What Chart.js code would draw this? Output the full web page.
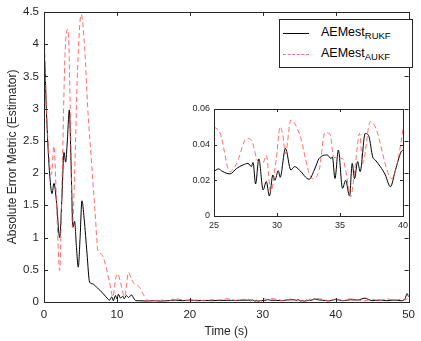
<!DOCTYPE html>
<html>
<head>
<meta charset="utf-8">
<script src="https://cdn.jsdelivr.net/npm/chart.js@4/dist/chart.umd.min.js"></script>
<style>
  body { margin: 0; background: #fff; }
  #wrap { position: relative; width: 421px; height: 341px; font-family: 'Liberation Sans', Arial, sans-serif; }
  #mainChart { position: absolute; left: 0; top: 0; }
  #insetChart { position: absolute; left: 188px; top: 99px; }
  #legend { position: absolute; left: 279px; top: 19px; width: 134px; height: 49px; border: 1px solid #262626; background: #fff; box-sizing: border-box; color: #000; }
  .row { position: absolute; left: 0; height: 20px; width: 100%; }
  .sample { position: absolute; left: 3px; width: 26px; top: 10px; }
  .lbl { position: absolute; left: 41px; top: 2px; font-size: 12.5px; white-space: nowrap; }
  .lbl sub { font-size: 9.5px; vertical-align: -3px; }
</style>
</head>
<body>
<div id="wrap">
  <canvas id="mainChart" width="421" height="341"></canvas>
  <canvas id="insetChart" width="224" height="136"></canvas>
  <div id="legend">
    <div class="row" style="top:3px"><span class="sample" style="border-top:1px solid #000"></span><span class="lbl">AEMest<sub>RUKF</sub></span></div>
    <div class="row" style="top:24px"><span class="sample" style="border-top:1px dashed #ff7070"></span><span class="lbl">AEMest<sub>AUKF</sub></span></div>
  </div>
</div>
<script>
// ---- data ----
// early part (0 - 25 s)
const rukfTime = [0, 0.15, 0.32, 0.55, 0.8, 1.1, 1.37, 1.7, 2.15, 2.45, 2.74, 2.97, 3.2, 3.47, 3.7, 3.97, 4.2, 4.45, 4.7, 4.95, 5.2, 5.5, 5.9, 6.25, 6.7, 7.2, 7.7, 8.1, 8.5, 9.0, 9.3, 9.5, 9.8, 10.0, 10.2, 10.5, 10.8, 11.0, 11.3, 11.6, 12.0, 12.3, 12.6, 13, 14, 15, 16, 17, 18, 19, 20, 21, 22, 23, 24];
const rukfValue = [3.9, 3.6, 3.0, 2.4, 1.95, 1.68, 1.84, 1.57, 1.0, 1.6, 2.32, 2.17, 2.5, 2.98, 2.2, 1.16, 1.25, 0.85, 0.54, 1.0, 1.57, 1.3, 0.75, 0.31, 0.28, 0.23, 0.18, 0.13, 0.08, 0.03, 0.08, 0.02, 0.1, 0.05, 0.12, 0.06, 0.09, 0.05, 0.1, 0.07, 0.11, 0.06, 0.02, 0.02, 0.015, 0.02, 0.015, 0.02, 0.03, 0.02, 0.03, 0.02, 0.025, 0.02, 0.025];
const aukfTime = [0, 0.3, 0.6, 1.0, 1.37, 1.7, 2.15, 2.5, 2.9, 3.3, 3.6, 3.9, 4.2, 4.6, 5.1, 5.6, 6.0, 6.5, 7.0, 7.4, 7.8, 8.1, 8.5, 9.0, 9.45, 9.8, 10.1, 10.5, 11.05, 11.6, 12.0, 12.4, 13.1, 13.6, 14.2, 15, 16, 17, 18, 19, 20, 21, 22, 23, 24];
const aukfValue = [4.36, 3.1, 2.4, 1.98, 2.42, 1.6, 0.49, 2.0, 3.9, 4.23, 3.0, 1.16, 2.0, 3.6, 4.46, 3.9, 3.0, 2.2, 1.4, 0.8, 0.75, 0.7, 0.55, 0.3, 0.08, 0.35, 0.44, 0.3, 0.08, 0.46, 0.35, 0.28, 0.23, 0.12, 0.03, 0.02, 0.03, 0.015, 0.05, 0.035, 0.02, 0.03, 0.02, 0.035, 0.03];

// zoomed window (25 - 40 s)
const insetRukfTime = [25, 25.34, 25.7, 26.26, 26.8, 27.3, 27.7, 27.97, 28.1, 28.3, 28.56, 28.9, 29.15, 29.4, 29.67, 29.83, 30.1, 30.25, 30.67, 31.1, 31.4, 31.77, 32.56, 32.96, 33.35, 34.0, 34.27, 34.4, 34.6, 34.87, 35.2, 35.45, 35.76, 35.97, 36.15, 36.4, 36.6, 37.0, 37.3, 37.6, 37.8, 38.2, 38.6, 39.0, 39.4, 39.85, 40];
const insetRukfValue = [0.0249, 0.0264, 0.0249, 0.0236, 0.0267, 0.0286, 0.0295, 0.0277, 0.030, 0.018, 0.032, 0.0146, 0.0193, 0.0112, 0.023, 0.020, 0.0254, 0.0217, 0.0379, 0.0258, 0.0277, 0.0258, 0.0206, 0.0258, 0.0323, 0.0342, 0.0323, 0.033, 0.021, 0.037, 0.0155, 0.020, 0.0112, 0.0295, 0.021, 0.0305, 0.0249, 0.0463, 0.0445, 0.033, 0.0314, 0.0277, 0.023, 0.0164, 0.0258, 0.036, 0.037];
const insetAukfTime = [25, 25.5, 26.26, 26.8, 27.6, 27.97, 28.5, 28.9, 29.15, 29.5, 29.94, 30.25, 30.46, 30.67, 31.1, 31.77, 32.8, 33.35, 33.8, 34.2, 34.5, 35.2, 35.45, 35.84, 36.2, 36.55, 36.8, 37.4, 37.8, 39.1, 39.6, 40];
const insetAukfValue = [0.050, 0.0463, 0.0249, 0.0295, 0.0435, 0.0426, 0.0305, 0.030, 0.034, 0.0136, 0.032, 0.050, 0.0454, 0.035, 0.0538, 0.0463, 0.021, 0.0258, 0.0467, 0.046, 0.033, 0.0323, 0.0258, 0.0108, 0.0277, 0.0463, 0.0295, 0.0529, 0.050, 0.021, 0.0314, 0.0486];

// late part (40 - 50 s)
const tailTime = [40.5, 41, 42, 43, 44, 44.5, 45, 46, 47, 48, 49, 49.5, 49.8, 50];
const tailRukf = [0.03, 0.02, 0.035, 0.03, 0.06, 0.04, 0.02, 0.03, 0.02, 0.03, 0.02, 0.05, 0.13, 0.08];
const tailAukf = [0.04, 0.02, 0.05, 0.03, 0.02, 0.03, 0.04, 0.02, 0.05, 0.03, 0.04, 0.03, 0.05, 0.03];

const mainXTicks = [0, 10, 20, 30, 40, 50];
const mainYTicks = [0, 0.5, 1, 1.5, 2, 2.5, 3, 3.5, 4, 4.5];
const insetXTicks = [25, 30, 35, 40];
const insetYTicks = [0, 0.02, 0.04, 0.06];

const toPoints = (ts, vs) => ts.map((t, i) => ({ x: t, y: vs[i] }));
const rukfMain = toPoints([...rukfTime, ...insetRukfTime, ...tailTime], [...rukfValue, ...insetRukfValue, ...tailRukf]);
const aukfMain = toPoints([...aukfTime, ...insetAukfTime, ...tailTime], [...aukfValue, ...insetAukfValue, ...tailAukf]);

const FONT = "'Liberation Sans', Arial, sans-serif";
const AX = '#262626';
const RED = 'rgba(255, 85, 85, 0.85)';

// white plot area, box and inward ticks on all 4 sides (matlab style)
const boxTicks = {
  id: 'boxTicks',
  beforeDatasetsDraw(chart) {
    const { ctx, chartArea: a } = chart;
    ctx.save();
    ctx.fillStyle = '#fff';
    ctx.fillRect(a.left, a.top, a.right - a.left, a.bottom - a.top);
    ctx.restore();
  },
  afterDatasetsDraw(chart, args, opts) {
    const { ctx, chartArea: a, scales: { x, y } } = chart;
    const len = opts.len || 4;
    ctx.save();
    ctx.strokeStyle = AX;
    ctx.lineWidth = 1;
    ctx.beginPath();
    x.ticks.forEach(t => {
      const px = Math.round(x.getPixelForValue(t.value)) + 0.5;
      ctx.moveTo(px, a.bottom); ctx.lineTo(px, a.bottom - len);
      ctx.moveTo(px, a.top); ctx.lineTo(px, a.top + len);
    });
    y.ticks.forEach(t => {
      const py = Math.round(y.getPixelForValue(t.value)) + 0.5;
      ctx.moveTo(a.left, py); ctx.lineTo(a.left + len, py);
      ctx.moveTo(a.right, py); ctx.lineTo(a.right - len, py);
    });
    ctx.stroke();
    ctx.strokeRect(Math.round(a.left) + 0.5, Math.round(a.top) + 0.5, Math.round(a.right - a.left), Math.round(a.bottom - a.top));
    ctx.restore();
  }
};

const lineSets = (blackPts, redPts) => [
  { label: 'AEMest RUKF', data: blackPts, borderColor: '#000', borderWidth: 1, pointRadius: 0, cubicInterpolationMode: 'monotone', order: 1 },
  { label: 'AEMest AUKF', data: redPts, borderColor: RED, borderWidth: 1, borderDash: [5, 3], pointRadius: 0, cubicInterpolationMode: 'monotone', order: 0 }
];

const fmt = v => String(+Number(v).toFixed(3));

new Chart(document.getElementById('mainChart'), {
  type: 'line',
  data: { datasets: lineSets(rukfMain, aukfMain) },
  plugins: [boxTicks],
  options: {
    responsive: false,
    animation: false,
    layout: { padding: { left: 0, right: 7, top: 11, bottom: 0 } },
    plugins: { legend: { display: false }, tooltip: { enabled: false }, boxTicks: { len: 4 } },
    scales: {
      x: {
        type: 'linear', min: 0, max: 50,
        afterBuildTicks: s => { s.ticks = mainXTicks.map(v => ({ value: v })); },
        afterFit: s => { s.height = 39; },
        grid: { display: false, drawTicks: false },
        border: { display: false },
        ticks: { color: AX, font: { family: FONT, size: 11.5 }, padding: 6, callback: fmt, maxRotation: 0 },
        title: { display: true, text: 'Time (s)', color: AX, font: { family: FONT, size: 12 }, padding: { top: 3, bottom: 2 } }
      },
      y: {
        type: 'linear', min: 0, max: 4.5,
        afterBuildTicks: s => { s.ticks = mainYTicks.map(v => ({ value: v })); },
        afterFit: s => { s.width = 44; },
        grid: { display: false, drawTicks: false },
        border: { display: false },
        ticks: { color: AX, font: { family: FONT, size: 11.5 }, padding: 5, callback: fmt },
        title: { display: true, text: 'Absolute Error Metric (Estimator)', color: AX, font: { family: FONT, size: 12 }, padding: { top: 5, bottom: 0 } }
      }
    }
  }
});

new Chart(document.getElementById('insetChart'), {
  type: 'line',
  data: { datasets: lineSets(toPoints(insetRukfTime, insetRukfValue), toPoints(insetAukfTime, insetAukfValue)) },
  plugins: [boxTicks],
  options: {
    responsive: false,
    animation: false,
    layout: { padding: { left: 0, right: 7, top: 10, bottom: 0 } },
    plugins: { legend: { display: false }, tooltip: { enabled: false }, boxTicks: { len: 3 } },
    scales: {
      x: {
        type: 'linear', min: 25, max: 40,
        afterBuildTicks: s => { s.ticks = insetXTicks.map(v => ({ value: v })); },
        afterFit: s => { s.height = 19; },
        grid: { display: false, drawTicks: false },
        border: { display: false },
        ticks: { color: AX, font: { family: FONT, size: 9 }, padding: 4, callback: fmt, maxRotation: 0 }
      },
      y: {
        type: 'linear', min: 0, max: 0.06,
        afterBuildTicks: s => { s.ticks = insetYTicks.map(v => ({ value: v })); },
        afterFit: s => { s.width = 26; },
        grid: { display: false, drawTicks: false },
        border: { display: false },
        ticks: { color: AX, font: { family: FONT, size: 9 }, padding: 4, callback: fmt }
      }
    }
  }
});
</script>
</body>
</html>
